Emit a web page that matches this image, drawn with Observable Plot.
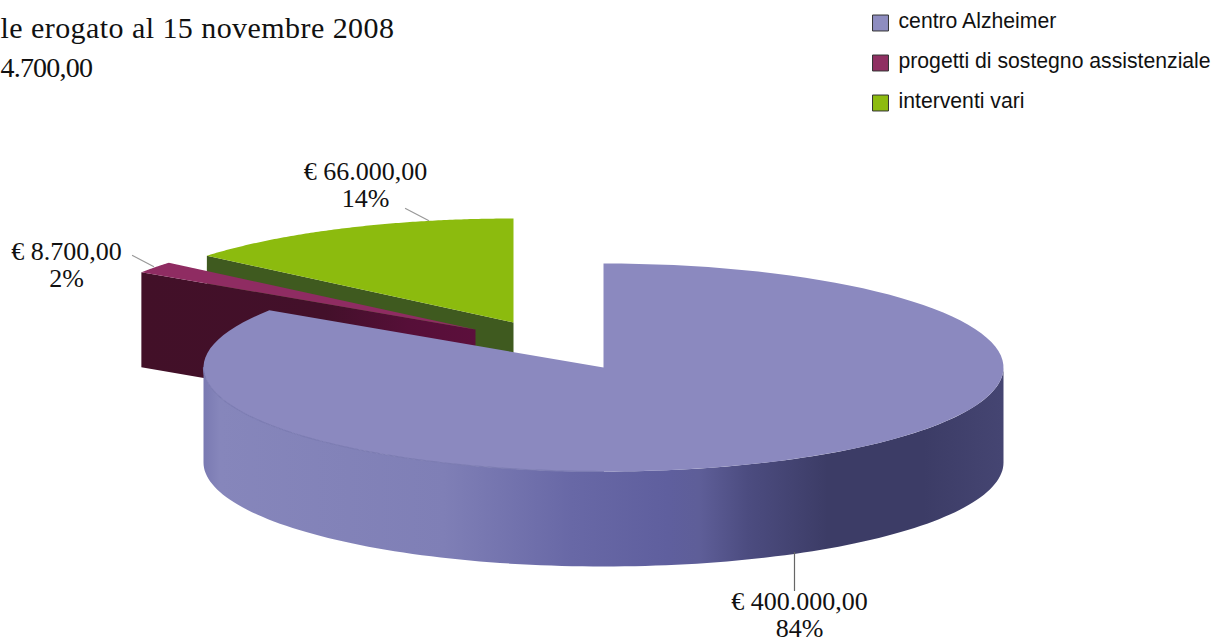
<!DOCTYPE html>
<html><head><meta charset="utf-8">
<style>html,body{margin:0;padding:0;background:#fff;overflow:hidden}svg{display:block}
.t1{letter-spacing:.44px}.t2{letter-spacing:-.8px}</style>
<script src="https://cdn.jsdelivr.net/npm/d3@7"></script>
<script src="https://cdn.jsdelivr.net/npm/@observablehq/plot@0.6"></script>
</head><body><script>
// ---- data ----
const categories = ["centro Alzheimer", "progetti di sostegno assistenziale", "interventi vari"];
const amounts = [400000, 8700, 66000];
const amountLabels = ["€ 400.000,00", "€ 8.700,00", "€ 66.000,00"];
const percentLabels = ["84%", "2%", "14%"];
const titleLine1 = ["le erogato al 15 novembre 2008"];
const titleLine2 = ["4.700,00"];

// ---- styles ----
const topColors = ["#8b89bf", "#8f2c62", "#8cbb0e"];
const swatchColors = ["#8e8dc0", "#8f3062", "#8dbb10"];
const faceColors = [null, "url(#wineFace)", "#3f5a1f"];
const serif = "'Liberation Serif', serif";
const sans = "'Liberation Sans', sans-serif";

// ---- layout of the exploded 3D pie (in pixels of the picture) ----
const W = 1225, H = 642;
const rx = 400, ry = 104, depth = 95;
const centers = [[603, 367], [475, 329], [513, 322]];
const leaders = [
  [[794, 552], [794, 590]],
  [[132, 255], [153, 266]],
  [[405, 208], [428, 220]]
];
const labelAnchors = [[799, 590], [66, 240], [365, 160]];

// ---- geometry derived from the values ----
const total = d3.sum(amounts);
const cum = d3.cumsum(amounts);
const ends = Array.from(cum, v => v / total * 2 * Math.PI);
const starts = [0, ...ends.slice(0, -1)];
const onRim = (i, a, drop = 0) => ({
  x: centers[i][0] + rx * Math.sin(a),
  y: centers[i][1] - ry * Math.cos(a) + drop
});
const arc = (i, a0, a1, drop = 0) =>
  d3.range(0, 121).map(k => onRim(i, a0 + (a1 - a0) * k / 120, drop));
const apex = (i, drop = 0) => ({x: centers[i][0], y: centers[i][1] + drop});
const topFace = i => [apex(i), ...arc(i, starts[i], ends[i]), apex(i)];
// the cut side seen at the start of a slice, going down by the depth
const cutFace = (i, a) => [apex(i), onRim(i, a), onRim(i, a, depth), apex(i, depth), apex(i)];
// the front half of the rim of the main slice
const front = [...arc(0, Math.PI / 2, 3 * Math.PI / 2),
               ...arc(0, Math.PI / 2, 3 * Math.PI / 2, depth).reverse()];
front.push(front[0]);

const poly = (pts, fill) => Plot.line(pts, {x: "x", y: "y", fill, stroke: "none", curve: "linear"});

const defs = () => {
  const s = d3.create("svg:defs");
  const grad = (id, x1, x2, stops) => {
    const g = s.append("linearGradient").attr("id", id).attr("gradientUnits", "userSpaceOnUse")
      .attr("x1", x1).attr("x2", x2).attr("y1", 0).attr("y2", 0);
    stops.forEach(([o, c]) => g.append("stop").attr("offset", o).attr("stop-color", c));
  };
  grad("rimShade", 203, 1003, [
    [0, "#7a7ab2"], [0.02, "#8686bb"], [0.3, "#7f7fb6"], [0.46, "#6868a6"], [0.58, "#5f5f9e"],
    [0.62, "#5e5e98"], [0.68, "#4c4c80"], [0.78, "#3c3c66"], [0.9, "#3c3c66"], [1, "#454572"]
  ]);
  grad("wineFace", 141, 475, [[0, "#421028"], [0.55, "#43102a"], [0.8, "#560f38"], [1, "#5c0f3c"]]);
  return s.node();
};

const legend = categories.map((c, i) => ({c, x: 880, y: 22.5 + 40 * i}));
const labels = categories.map((c, i) => ({
  x: labelAnchors[i][0], y: labelAnchors[i][1], t: amountLabels[i] + "\n" + percentLabels[i]
}));
const leaderRows = leaders.flatMap((l, i) => l.map(p => ({x: p[0], y: p[1], i})));

const chart = Plot.plot({
  width: W, height: H, margin: 0,
  x: {domain: [0, W], range: [0, W], axis: null},
  y: {domain: [0, H], range: [0, H], axis: null},
  color: {domain: categories, range: swatchColors},
  style: {background: "#fff"},
  marks: [
    defs,
    poly(cutFace(2, starts[2]), faceColors[2]),
    poly(topFace(2), topColors[2]),
    poly(cutFace(1, starts[1]), faceColors[1]),
    poly(topFace(1), topColors[1]),
    poly(front, "url(#rimShade)"),
    poly(topFace(0), topColors[0]),
    Plot.line(arc(0, Math.PI, 3 * Math.PI / 2), {x: "x", y: "y", stroke: "#7c7cb2", strokeWidth: 1.2}),
    Plot.line(leaderRows, {x: "x", y: "y", z: "i", stroke: d => d.i === 0 ? "#666" : "#999", strokeWidth: 1.2}),
    Plot.text(labels, {x: "x", y: "y", text: "t", fontFamily: serif, fontSize: 26, lineHeight: 1.04,
      lineAnchor: "top", fill: "#111"}),
    Plot.text(titleLine1, {x: () => 0, y: () => 28, text: d => d, className: "t1",
      fontFamily: serif, fontSize: 30, textAnchor: "start", fill: "#111"}),
    Plot.text(titleLine2, {x: () => 0, y: () => 68, text: d => d, className: "t2",
      fontFamily: serif, fontSize: 28, textAnchor: "start", fill: "#111"}),
    Plot.dot(legend, {x: "x", y: "y", fill: "c", symbol: "square", r: 9, stroke: "#333", strokeWidth: 1}),
    Plot.text(legend, {x: d => d.x + 18, y: "y", text: "c", fontFamily: sans, fontSize: 21.2,
      textAnchor: "start", fill: "#111", dy: -2})
  ]
});
document.body.append(chart);
</script></body></html>
